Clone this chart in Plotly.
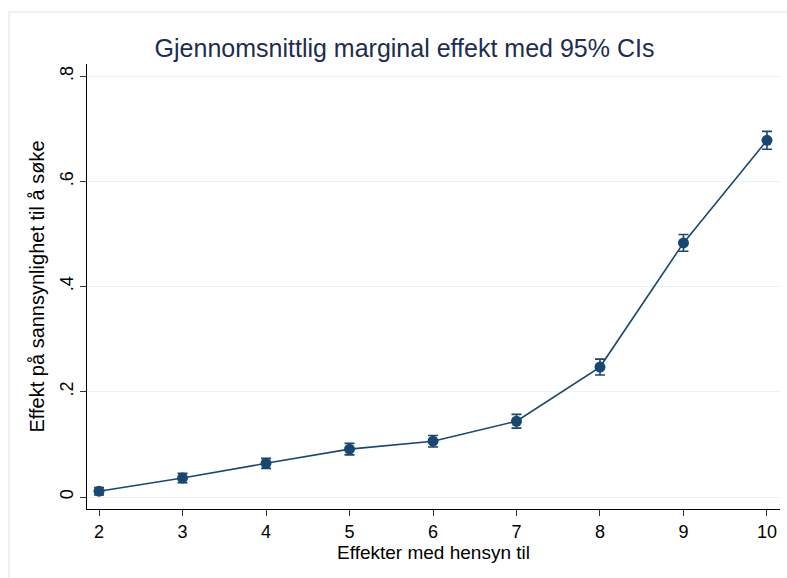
import plotly.graph_objects as go

x_vals = [2, 3, 4, 5, 6, 7, 8, 9, 10]
effects = [0.011, 0.036, 0.064, 0.091, 0.106, 0.144, 0.247, 0.483, 0.678]
ci_half = [0.007, 0.009, 0.0095, 0.011, 0.011, 0.013, 0.015, 0.016, 0.017]
y_tickvals = [0, 0.2, 0.4, 0.6, 0.8]
y_ticktext = ["0", ".2", ".4", ".6", ".8"]
x_tickvals = [2, 3, 4, 5, 6, 7, 8, 9, 10]

navy = "#1a476f"
font_family = "Liberation Sans, Arial, Helvetica, sans-serif"

fig = go.Figure()
fig.add_trace(go.Scatter(
    x=x_vals, y=effects, mode="lines+markers",
    line=dict(color=navy, width=1.6),
    marker=dict(color=navy, size=11),
    error_y=dict(type="data", array=ci_half, visible=True, color=navy, thickness=1.6, width=5),
    showlegend=False,
))

L, R, T, B = 87, 7, 64, 69
W, H = 787, 578
pw, ph = W - L - R, H - T - B

def px_x(p):
    return (p - L) / pw

def px_y(p):
    return (H - B - p) / ph

fig.add_shape(type="rect", xref="paper", yref="paper",
              x0=px_x(9), x1=px_x(820), y0=px_y(620), y1=px_y(12),
              line=dict(color="#e6eff1", width=1.5), fillcolor="rgba(0,0,0,0)", layer="below")

fig.update_layout(
    width=W, height=H,
    margin=dict(l=L, r=R, t=T, b=B),
    paper_bgcolor="white", plot_bgcolor="white",
    font=dict(family=font_family, color="black", size=18),
    title=dict(text="Gjennomsnittlig marginal effekt med 95% CIs",
               x=404.5 / W, xanchor="center", xref="container", y=1 - 48 / H, yanchor="middle",
               font=dict(size=25, color="#1c2d50")),
    xaxis=dict(range=[1.856, 10.156], tickvals=x_tickvals, showgrid=False, zeroline=False,
               showline=True, linecolor="black", linewidth=1,
               ticks="outside", ticklen=6, tickcolor="#333", tickwidth=1,
               tickfont=dict(size=18),
               title=dict(text="Effekter med hensyn til", standoff=4, font=dict(size=19))),
    yaxis=dict(range=[-0.0228, 0.823], tickvals=y_tickvals, ticktext=y_ticktext, tickangle=-90,
               showgrid=True, gridcolor="#eaf2f3", gridwidth=1, zeroline=False,
               showline=True, linecolor="black", linewidth=1,
               ticks="outside", ticklen=6, tickcolor="#333", tickwidth=1,
               tickfont=dict(size=18),
               title=dict(text="Effekt på sannsynlighet til å søke", standoff=6, font=dict(size=20))),
)

fig.write_html("out.html", config={"displayModeBar": False},
               post_script="document.body.style.margin='0';document.body.style.overflow='hidden';")
